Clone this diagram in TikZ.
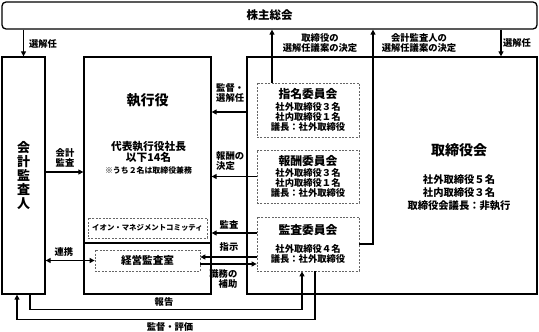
\documentclass[tikz,border=0pt]{standalone}
\usepackage{fontspec}
\setmainfont{Noto Sans CJK JP}
\usetikzlibrary{positioning,calc,arrows.meta}

\begin{document}
\begin{tikzpicture}[x=1pt,y=-1pt,>={Triangle[length=5pt,width=5pt]},
          font=\fontsize{9.3}{10.3}\selectfont\bfseries,
          box/.style ={draw,line width=1.3pt,inner sep=0pt},
          sub/.style ={draw=black!60,dash pattern=on 2pt off 1.4pt,line width=0.8pt,inner sep=0pt,align=center},
          con/.style ={line width=1.2pt},
          lbl/.style ={inner sep=0pt,align=center},
          ttl/.style ={font=\fontsize{14}{16}\selectfont\bfseries}]
        \useasboundingbox (0,0) rectangle (539,332);
        % main boxes
        \node[box,rounded corners=4pt,minimum width=535pt,minimum height=27pt,font=\fontsize{11.5}{13}\selectfont\bfseries] (share) at (269.5,15.5) {株主総会};
        \node[box,minimum width=43pt,minimum height=237pt,align=center,font=\fontsize{13}{14.2}\selectfont\bfseries] (acc) at (23.5,175.5) {会\\計\\監\\査\\人};
        \node[box,minimum width=127pt,minimum height=237pt] (exe) at (147.5,175.5) {};
        \node[box,minimum width=290pt,minimum height=237pt] (brd) at (392,175.5) {};
        \draw[line width=1.3pt] (exe.west |- 0,243) -- (exe.east |- 0,243);
        % texts
        \node[ttl] (exet) at (147.5,100) {執行役};
        \node[lbl,font=\fontsize{10.7}{10.2}\selectfont\bfseries] (exed) at (148.5,152) {代表執行役社長\\以下14名};
        \node[lbl,font=\fontsize{7.9}{9}\selectfont\bfseries] (exen) [below=3.5pt of exed] {※うち２名は取締役兼務};
        \node[ttl] (brdt) at (459,150) {取締役会};
        \node[lbl,font=\fontsize{10.3}{13}\selectfont\bfseries] (brdd) at (459,193) {社外取締役５名\\社内取締役３名\\取締役会議長：非執行};
        % committees
        \node[sub,minimum width=102pt,minimum height=54pt] (nom) at (308,110)
            {{\fontsize{11.8}{13}\selectfont 指名委員会}\\[1.5pt]社外取締役３名\\社内取締役１名\\議長：社外取締役};
        \node[sub,minimum width=102pt,minimum height=53pt] (rem) at (308,176.5)
            {{\fontsize{11.8}{13}\selectfont 報酬委員会}\\[0.5pt]社外取締役３名\\社内取締役１名\\議長：社外取締役};
        \node[sub,minimum width=102pt,minimum height=54pt] (aud) at (308,244)
            {{\fontsize{11.8}{13}\selectfont 監査委員会}\\[7pt]社外取締役４名\\議長：社外取締役};
        \node[sub,minimum width=119pt,minimum height=20pt,font=\fontsize{7.4}{9}\selectfont\bfseries] (aeon) at (147.5,228) {イオン・マネジメントコミッティ};
        \node[sub,minimum width=105pt,minimum height=21pt,font=\fontsize{10.6}{12}\selectfont\bfseries] (ia) at (147.5,260.5) {経営監査室};
        % connectors
        \coordinate (nx) at (272,0);
        \coordinate (ax) at (373,0);
        \coordinate (rx) at (501,0);
        \coordinate (au) at ([yshift=11pt]aud.west);
        \coordinate (ci) at ([yshift=3.5pt]ia.east);
        \coordinate (co) at ([yshift=-3.5pt]ia.east);
        \coordinate (ca) at ([yshift=3.5pt]acc.east);
        \draw[con,->] (acc.north |- share.south) -- (acc.north);
        \draw[con,->] (rx |- share.south) -- (rx |- brd.north);
        \draw[con,->] (nx |- nom.north) -- (nx |- share.south);
        \draw[con,->] (aud.east) -| (ax |- share.south);
        \draw[con,->] (brd.west |- 0,112) -- (exe.east |- 0,112);
        \draw[con,->] (rem.west) -- (exe.east |- rem.west);
        \draw[con,->] (au) -- (exe.east |- au);
        \draw[con,->] (aud.west |- ci) -- (ci);
        \draw[con,->] (co) -- (aud.west |- co);
        \draw[con,->] (ca) -- (exe.west |- ca);
        \draw[con,<->] (acc.east |- ia.west) -- (ia.west);
        \draw[con,->] ([xshift=6.5pt]acc.south) -- ++(0,15) -| ([xshift=-6pt]aud.south);
        \draw[con,->] ([xshift=7pt]aud.south) -- ++(0,48) -| ([xshift=-6.5pt]acc.south);
        % labels
        \node[lbl] (l1) at (43,44) {選解任};
        \node[lbl] (l2) at (517,43) {選解任};
        \node[lbl] (l3) at (320,43) {取締役の\\選解任議案の決定};
        \node[lbl] (l4) at (419,43) {会計監査人の\\選解任議案の決定};
        \node[lbl,align=left,anchor=west] (l5) at (216,93) {監督・\\選解任};
        \node[lbl,align=left,anchor=west] (l6) at (216,161) {報酬の\\決定};
        \node[lbl] (l7) at (229,225) {監査};
        \node[lbl] (l8) at (229,247) {指示};
        \node[lbl,align=right,anchor=east] (l9) at (237.5,279) {職務の\\補助};
        \node[lbl] (l10) at (65,158) {会計\\監査};
        \node[lbl] (l11) at (64,252) {連携};
        \node[lbl] (l12) at (164,302) {報告};
        \node[lbl] (l13) at (170,327) {監督・評価};
      \end{tikzpicture}
\end{document}
